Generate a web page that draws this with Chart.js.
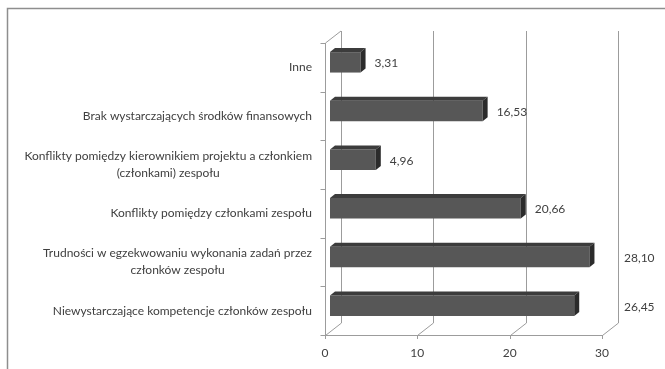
<!DOCTYPE html>
<html>
<head>
<meta charset="utf-8">
<script src="https://cdn.jsdelivr.net/npm/chart.js@4"></script>
<style>
  html, body { margin: 0; padding: 0; background: #ffffff; }
  #wrap { width: 665px; height: 369px; }
</style>
</head>
<body>
<div id="wrap"><canvas id="c" width="665" height="369"></canvas></div>
<script>
// Przyczyny problemów w zespole projektowym (%)
const categories = [
  ['Inne'],
  ['Brak wystarczających środków finansowych'],
  ['Konflikty pomiędzy kierownikiem projektu a członkiem', '(członkami) zespołu'],
  ['Konflikty pomiędzy członkami zespołu'],
  ['Trudności w egzekwowaniu wykonania zadań przez', 'członków zespołu'],
  ['Niewystarczające kompetencje członków zespołu']
];
const values = [3.31, 16.53, 4.96, 20.66, 28.10, 26.45];
const xTicks = [0, 10, 20, 30];

// 3-D look: offsets of the front and back planes relative to the bar plane
const FRONT = { dx: -5, dy: 5 };
const BACK = { dx: 11, dy: -7 };
const BAR_DEPTH = { dx: 5, dy: -4 };
const FONT = '12px Lato';
const TEXT = '#404040';
const GRID = '#9c9c9c';

const fmt = v => v.toFixed(2).replace('.', ',');

const box3d = {
  id: 'box3d',
  beforeDraw(chart) {
    const ctx = chart.ctx;
    ctx.save();
    ctx.fillStyle = '#ffffff';
    ctx.fillRect(0, 0, chart.width, chart.height);
    ctx.strokeStyle = '#8e8e8e';
    ctx.lineWidth = 1.5;
    ctx.strokeRect(7.5, 8.5, chart.width + 20, chart.height + 20);
    ctx.restore();
  },
  beforeDatasetsDraw(chart) {
    const ctx = chart.ctx;
    const xs = chart.scales.x, a = chart.chartArea;
    const fTop = a.top + FRONT.dy, fBot = a.bottom + FRONT.dy;
    const bTop = a.top + BACK.dy, bBot = a.bottom + BACK.dy;
    ctx.save();
    ctx.strokeStyle = GRID;
    ctx.lineWidth = 1;
    ctx.beginPath();
    // left wall: front edge, top edge
    const fx0 = Math.round(xs.getPixelForValue(0) + FRONT.dx) + 0.5;
    ctx.moveTo(fx0, fBot); ctx.lineTo(fx0, fTop);
    ctx.lineTo(xs.getPixelForValue(0) + BACK.dx, bTop);
    // floor front edge
    ctx.moveTo(fx0, fBot + 0.5);
    ctx.lineTo(xs.getPixelForValue(30) + FRONT.dx, fBot + 0.5);
    // gridlines on the back wall + floor diagonals + ticks
    xTicks.forEach(v => {
      const fx = Math.round(xs.getPixelForValue(v) + FRONT.dx) + 0.5;
      const bx = Math.round(xs.getPixelForValue(v) + BACK.dx) + 0.5;
      ctx.moveTo(fx, fBot + 0.5); ctx.lineTo(bx, bBot);
      ctx.lineTo(bx, bTop);
      ctx.moveTo(fx, fBot); ctx.lineTo(fx, fBot + 4);
    });
    // category ticks on the left wall
    const ys = chart.scales.y;
    const n = categories.length;
    for (let i = 0; i <= n; i++) {
      const y = Math.round(ys.getPixelForValue(i - 0.5) + FRONT.dy) + 0.5;
      ctx.moveTo(fx0 - 5, y); ctx.lineTo(fx0, y);
    }
    ctx.stroke();
    ctx.restore();
  },
  afterDatasetsDraw(chart) {
    const ctx = chart.ctx;
    const xs = chart.scales.x, ys = chart.scales.y, a = chart.chartArea;
    const meta = chart.getDatasetMeta(0);
    const backRight = xs.getPixelForValue(30) + BACK.dx;
    ctx.save();
    meta.data.forEach((bar, i) => {
      const x0 = bar.base, x1 = bar.x;
      const top = bar.y - bar.height / 2, bot = bar.y + bar.height / 2;
      const d = BAR_DEPTH;
      // top face
      ctx.fillStyle = '#3c3c3c';
      ctx.beginPath();
      ctx.moveTo(x0, top); ctx.lineTo(x0 + d.dx, top + d.dy);
      ctx.lineTo(x1 + d.dx, top + d.dy); ctx.lineTo(x1, top);
      ctx.closePath(); ctx.fill();
      // side face
      ctx.fillStyle = '#2b2b2b';
      ctx.beginPath();
      ctx.moveTo(x1, top); ctx.lineTo(x1 + d.dx, top + d.dy);
      ctx.lineTo(x1 + d.dx, bot + d.dy); ctx.lineTo(x1, bot);
      ctx.closePath(); ctx.fill();
      // value label
      ctx.font = FONT;
      ctx.fillStyle = TEXT;
      ctx.textBaseline = 'middle';
      ctx.textAlign = 'left';
      const txt = fmt(values[i]);
      const w = ctx.measureText(txt).width;
      let lx = x1 + d.dx + 9;
      if (lx + w > backRight - 4) lx = backRight + 6;
      ctx.fillText(txt, lx, bar.y + 1);
    });
    // category labels
    ctx.font = FONT;
    ctx.fillStyle = TEXT;
    ctx.textBaseline = 'middle';
    ctx.textAlign = 'center';
    const rightEdge = 312, lh = 17;
    categories.forEach((lines, i) => {
      const cy = ys.getPixelForValue(i) + FRONT.dy;
      const bw = Math.max(...lines.map(l => ctx.measureText(l).width));
      const cx = rightEdge - bw / 2;
      lines.forEach((l, k) => {
        ctx.fillText(l, cx, cy + (k - (lines.length - 1) / 2) * lh);
      });
    });
    // value axis labels
    xTicks.forEach(v => {
      ctx.fillText(String(v), xs.getPixelForValue(v) + FRONT.dx, a.bottom + FRONT.dy + 18);
    });
    ctx.restore();
  }
};

new Chart(document.getElementById('c'), {
  type: 'bar',
  data: {
    labels: categories,
    datasets: [{
      data: values,
      backgroundColor: '#575757',
      borderWidth: 0,
      categoryPercentage: 1,
      barPercentage: 0.42
    }]
  },
  options: {
    indexAxis: 'y',
    responsive: false,
    animation: false,
    layout: { padding: { left: 330, right: 58, top: 38, bottom: 39 } },
    scales: {
      x: { display: false, min: 0, max: 30 },
      y: { display: false }
    },
    plugins: { legend: { display: false }, tooltip: { enabled: false } }
  },
  plugins: [box3d]
});
</script>
</body>
</html>
